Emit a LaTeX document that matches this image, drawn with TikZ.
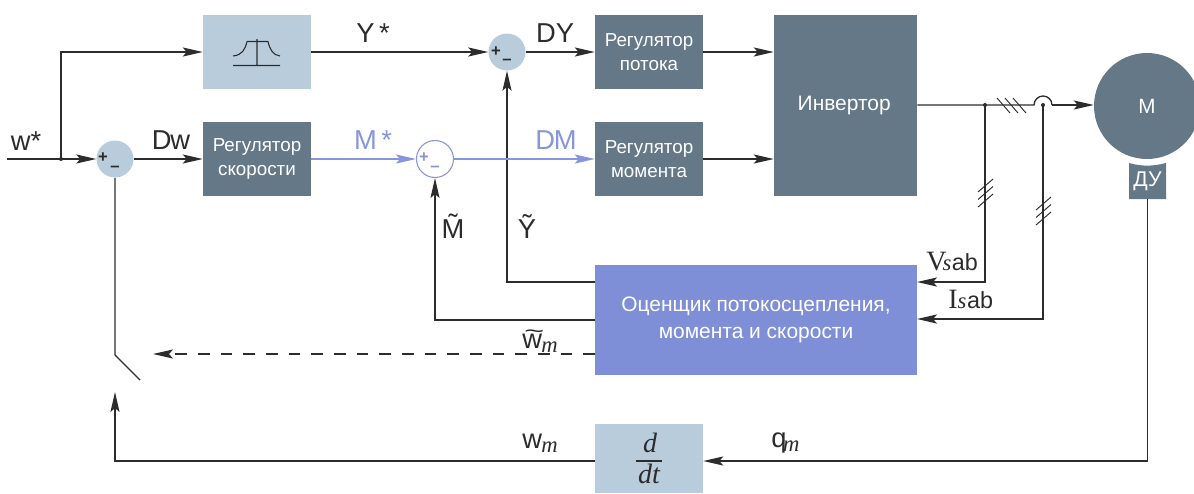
\documentclass[tikz,border=0pt]{standalone}
\usepackage{fontspec}
\usepackage{graphicx}
\setmainfont{Liberation Sans}
\newfontfamily\srf{Liberation Serif}
\usetikzlibrary{arrows.meta,calc}
\definecolor{slate}{HTML}{647887}
\definecolor{pale}{HTML}{B8CCDC}
\definecolor{est}{HTML}{7F8FD7}
\definecolor{bluel}{HTML}{8795DC}
\definecolor{ink}{HTML}{2C2C2C}
\newcommand{\fs}[1]{\fontsize{#1}{#1}\selectfont}
\newcommand{\lab}{\fs{20.5}}
\newcommand{\smi}[1]{{\srf\itshape\fs{17}#1}}
\tikzset{
  x=0.75pt,y=-0.75pt,
  tipk/.tip={Stealth[length=15pt,width=6.8pt,inset=3pt]},
  wire/.style={draw=ink,line width=1pt},
  arr/.style={wire,-{tipk}},
  bwire/.style={draw=bluel,line width=1.2pt},
  barr/.style={bwire,-{Stealth[length=15pt,width=6.8pt,inset=3pt]}},
  tick/.style={draw=ink,line width=0.7pt},
  blk/.style={rectangle,inner sep=0pt,minimum width=81pt,minimum height=55.5pt,align=center,fill=slate,text=white,font=\fs{14.1}},
  lightblk/.style={blk,fill=pale,text=ink},
  summ/.style={circle,inner sep=0pt,minimum size=27.75pt,fill=pale},
  sign/.style={inner sep=0pt,text=ink,font=\bfseries\fs{12.5}},
  lbl/.style={inner sep=0pt,text=ink,font=\lab},
  blbl/.style={lbl,text=bluel},
  dot/.style={circle,fill=ink,inner sep=0pt,minimum size=3pt},
}
\begin{document}
\begin{tikzpicture}
\useasboundingbox (0,0) rectangle (1194,493);
% blocks
\node[lightblk] (filt) at (257,52) {};
\node[blk] (rs) at (257,159) {Регулятор\\[3.8pt]скорости};
\node[blk] (rf) at (649,52) {Регулятор\\[3.8pt]потока};
\node[blk] (rm) at (649,159) {Регулятор\\[3.8pt]момента};
\node[blk,minimum width=107.25pt,minimum height=135.75pt,font=\fs{15.7}] (inv) at (845.5,105.5) {\kern-2pt\raisebox{0.7pt}{Инвертор}};
\node[blk,fill=est,minimum width=241.5pt,minimum height=82.5pt,font=\fs{15.7}] (estm) at (756,320) {Оценщик потокосцепления,\\[4.5pt]момента и скорости};
\node[lightblk,minimum height=51.75pt,font=\srf\itshape\fs{21},text=ink] (ddt) at (649,458.5) {\kern1.5pt d\\[2pt]dt};
\node[circle,fill=slate,inner sep=0pt,minimum size=79.5pt,text=white,font=\fs{15.5}] (mot) at (1147,106) {М};
\fill[slate] (1129,163) .. controls (1141,166.5) and (1153,166.5) .. (1166,163) -- (1166,199) -- (1129,199) -- cycle;
\node[inner sep=0pt,minimum width=27.75pt,minimum height=27pt,text=white,font=\fs{16}] (du) at (1147.5,181) {ДУ};
% filter glyph
\draw[draw=ink,line width=0.8pt] (233,65.5) -- (280,65.5) (257,39) -- (257,65.5) (247,41.5) -- (268,41.5)
  (233,56) .. controls (242,55) and (245,50) .. (247,41.5) (268,41.5) .. controls (270,50) and (273,55) .. (280,56);
% d/dt rule
\draw[draw=ink,line width=0.8pt] (636,461) -- (662,461);
% summers
\node[summ] (s1) at (115,159) {};
\node[summ] (s2) at (507,52) {};
\node[summ,fill=white,draw=bluel,line width=0.8pt] (s3) at (435,159) {};
\node[sign] (p1) at (103,158) {+};
\node[sign] (m1) at (115,169) {–};
\node[sign] (p2) at (496,52) {+};
\node[sign] (m2) at (507,62) {–};
\node[sign,text=bluel] (p3) at (424,158) {+};
\node[sign,text=bluel] (m3) at (435,169) {–};
% coordinates
\coordinate (in) at (7,159);
\coordinate (j0) at (61,159);
\coordinate (jv) at (985,105);
\coordinate (ji) at (1043,105);
\coordinate (ev) at (917,282);
\coordinate (ei) at (917,319);
\coordinate (ey) at (595,282);
\coordinate (em) at (595,320);
\coordinate (ew) at (595,354);
\coordinate (dash) at (153,354);
\coordinate (sw1) at (115,355);
\coordinate (sw2) at (140,380);
\coordinate (sw3) at (115,392);
\coordinate (q) at (1147.5,461);
% connectors
\draw[arr] (in) -- (s1);
\draw[arr] (j0) |- (filt);
\node[dot] (jd0) at (j0) {};
\draw[arr] (s1) -- (rs);
\draw[arr] (filt) -- (s2);
\draw[arr] (s2) -- (rf);
\draw[arr] (rf.east) -- (rf.east -| inv.west);
\draw[arr] (rm.east) -- (rm.east -| inv.west);
\draw[arr] (ey) -| (s2.south);
\draw[arr] (em) -| (s3.south);
\draw[wire] (s1.south) -- (sw1) -- (sw2);
\draw[wire,-{tipk}] (ddt.west |- 115,461) -| (sw3);
\draw[wire,dash pattern=on 8.8pt off 8.2pt,-{tipk}] (ew) -- (dash);
\draw[wire] (inv.east |- jv) -- (1034,105) arc[start angle=180,end angle=360,radius=9];
\draw[arr] (1052,105) -- (mot.west |- 0,105);
\draw[arr] (jv) |- (ev);
\draw[arr] (ji) |- (ei);
\node[dot] (jdv) at (jv) {};
\node[dot] (jdi) at (ji) {};
\draw[wire] (du.south) -- (q);
\draw[arr] (q) -- (q -| ddt.east);
\draw[barr] (rs) -- (s3);
\draw[barr] (s3) -- (rm);
% ticks
\draw[tick] (997,98) -- (1010,113) (1005,98) -- (1018,113) (1013,98) -- (1026,113);
\draw[tick] (978,192) -- (993,179) (978,199.5) -- (993,186.5) (978,207) -- (993,194);
\draw[tick] (1036,210) -- (1051,197) (1036,217.5) -- (1051,204.5) (1036,225) -- (1051,212);
% labels
\node[lbl] (lw) at (26,141) {w*};
\node[lbl] (ly) at (373,33) {Y\,*};
\node[lbl] (ldw) at (171,140) {D\kern-1ptw};
\node[blbl] (lm) at (373,140) {M\,*};
\node[lbl] (ldy) at (555,33) {DY};
\node[blbl] (ldm) at (556,140) {D\kern-1ptM};
\node[lbl] (ltm) at (453,226) {\~{M}};
\node[lbl] (lty) at (527,226) {\~{Y}};
\node[lbl,anchor=base west] (lvs) at (926,270) {{\srf\fs{21}V}\kern-3pt\smi{s}\kern0.5pt{\fs{17.5}ab}};
\node[lbl,anchor=base west] (lis) at (948,308) {{\srf\fs{21}I}\smi{s}\kern0.5pt{\fs{17.5}ab}};
\node[lbl,anchor=base west] (ltw) at (522,348) {\makebox[0pt][l]{\raisebox{7.5pt}{\kern1.5pt\scalebox{1.25}[0.8]{\char`\~}}}w\kern-0.5pt\raisebox{-3.6pt}{\smi{m}}};
\node[lbl,anchor=base west] (lwm) at (522,448) {w\kern-0.5pt\raisebox{-3.6pt}{\smi{m}}};
\node[lbl,anchor=base west] (lqm) at (771,447) {q\kern-2.5pt\raisebox{-3.6pt}{\smi{m}}};
\end{tikzpicture}
\end{document}
